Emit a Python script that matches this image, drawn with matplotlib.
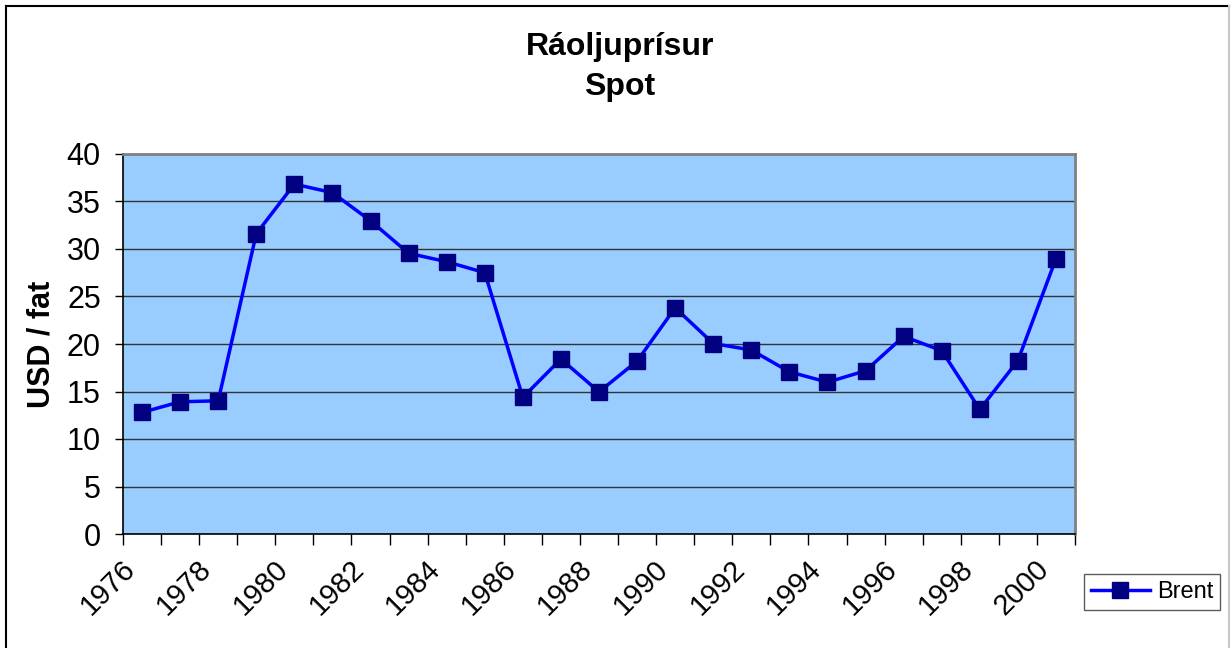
import matplotlib.pyplot as plt
import matplotlib.transforms as mtransforms
from matplotlib.lines import Line2D

plt.rcParams['font.family'] = ['Liberation Sans', 'DejaVu Sans']

years = list(range(1976, 2001))
brent = [12.80, 13.92, 14.02, 31.61, 36.83, 35.93, 32.97, 29.55, 28.66, 27.51,
         14.38, 18.42, 14.96, 18.20, 23.81, 20.05, 19.37, 17.07, 15.98, 17.18,
         20.80, 19.30, 13.11, 18.25, 28.98]
yticks = [0, 5, 10, 15, 20, 25, 30, 35, 40]

fig = plt.figure(figsize=(12.31, 6.48), dpi=100)

# outer chart frame (left/top black, right light grey)
fig.add_artist(Line2D([6/1231, 6/1231], [0, 1 - 6/648], color='black', lw=1.5))
fig.add_artist(Line2D([6/1231, 1229/1231], [1 - 6/648, 1 - 6/648], color='black', lw=1.5))
fig.add_artist(Line2D([1229/1231, 1229/1231], [0, 1 - 6/648], color='#c8c8c8', lw=1.5))

ax = fig.add_axes([123/1231, 1 - 534/648, (1075 - 123)/1231, (534 - 154)/648])
ax.set_facecolor('#99ccff')

x = list(range(len(years)))
ax.plot(x, brent, color='#0000ff', lw=2.5, marker='s', markersize=11.5,
        markerfacecolor='#000080', markeredgecolor='#000080', label='Brent', zorder=3)

ax.set_xlim(-0.5, len(years) - 0.5)
ax.set_ylim(0, 40)
ax.set_yticks(yticks)
ax.yaxis.grid(True, color='#333333', lw=1)
ax.set_axisbelow(True)

# category boundary ticks (no labels) + labels at category centres
ax.set_xticks([i - 0.5 for i in range(len(years) + 1)])
ax.set_xticklabels([])
ax.set_xticks(x[::2], [str(y) for y in years[::2]], minor=True)
ax.tick_params(axis='x', which='major', length=8, width=1, direction='out', color='black')
ax.tick_params(axis='x', which='minor', length=0, pad=22, labelsize=21)
shift = mtransforms.ScaledTranslation(-11/100, 0, fig.dpi_scale_trans)
for lab in ax.get_xticklabels(minor=True):
    lab.set_rotation(45)
    lab.set_ha('right')
    lab.set_va('center')
    lab.set_rotation_mode('anchor')
    lab.set_transform(lab.get_transform() + shift)
ax.tick_params(axis='y', length=6, width=1, direction='out', labelsize=22, pad=10)

for side in ['top', 'right']:
    ax.spines[side].set_color('#808080')
    ax.spines[side].set_linewidth(2)
for side in ['left', 'bottom']:
    ax.spines[side].set_color('black')
    ax.spines[side].set_linewidth(1.2)

ax.set_ylabel('USD / fat', fontsize=22, fontweight='bold')
ax.yaxis.set_label_coords((56 - 123)/952, 0.5)

fig.text(620/1231, 1 - 47/648, 'Ráoljuprísur', ha='center', va='center',
         fontsize=23, fontweight='bold')
fig.text(620/1231, 1 - 87/648, 'Spot', ha='center', va='center',
         fontsize=23, fontweight='bold')

leg = fig.legend(loc='center', bbox_to_anchor=(1152/1231, 1 - 592/648), fontsize=17,
                 frameon=True, fancybox=False, handlelength=2.5, handletextpad=0.3,
                 borderpad=0.3, borderaxespad=0)
leg.get_frame().set_edgecolor('#333333')
leg.get_frame().set_linewidth(1)

fig.savefig('out.png', dpi=100)
